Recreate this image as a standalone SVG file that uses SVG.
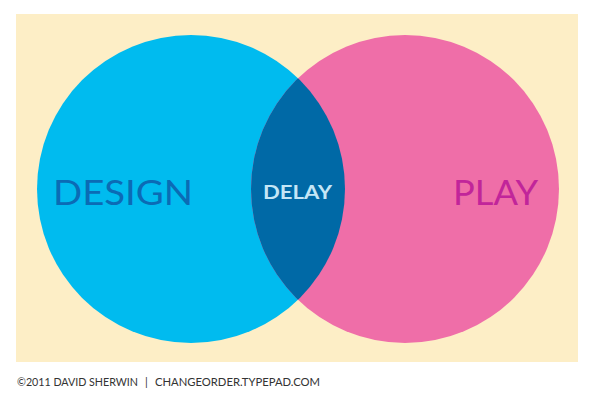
<svg xmlns="http://www.w3.org/2000/svg" width="596" height="404" viewBox="0 0 596 404">
<style>
.lbl{font-family:"Lato","Liberation Sans",sans-serif;}
.big{font-size:35px;font-weight:400;}
.foot{font-size:11px;fill:#333333;}
</style>
<defs>
<clipPath id="clipBlue"><circle cx="191" cy="189" r="154"/></clipPath>
</defs>
<rect width="596" height="404" fill="#ffffff"/>
<rect id="background" x="16" y="14" width="562" height="348" fill="#FDEEC6"/>
<g id="design">
<circle cx="191" cy="189" r="154" fill="#00BBEF"/>
<text class="lbl big" x="53" y="205" fill="#0B6BB5" textLength="140" lengthAdjust="spacingAndGlyphs">DESIGN</text>
</g>
<g id="play">
<circle cx="405" cy="189" r="154" fill="#EF6EA8"/>
<text class="lbl big" x="453" y="205" fill="#C1259A" textLength="85" lengthAdjust="spacingAndGlyphs">PLAY</text>
</g>
<g id="delay">
<circle cx="405" cy="189" r="154" fill="#0069A6" clip-path="url(#clipBlue)"/>
<text class="lbl" x="263" y="199" font-size="18" font-weight="700" fill="#C4E6F6" textLength="69" lengthAdjust="spacingAndGlyphs">DELAY</text>
</g>
<g id="connectors"></g>
<g id="footer">
<text class="lbl foot" x="17" y="386" textLength="121" lengthAdjust="spacingAndGlyphs">©2011 DAVID SHERWIN</text>
<text class="lbl foot" x="145" y="386">|</text>
<text class="lbl foot" x="155" y="386" textLength="165" lengthAdjust="spacingAndGlyphs">CHANGEORDER.TYPEPAD.COM</text>
</g>
</svg>
